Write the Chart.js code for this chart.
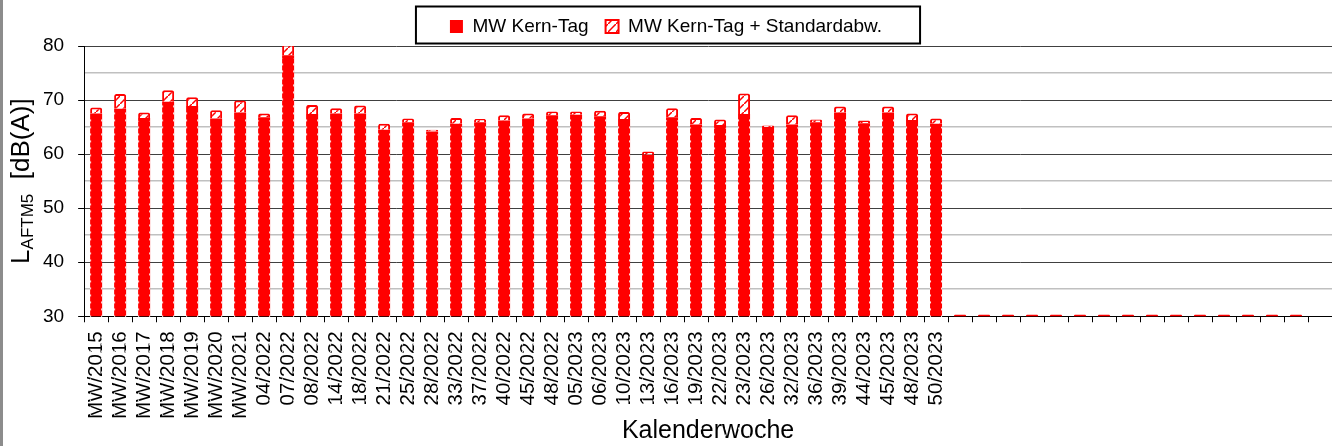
<!DOCTYPE html>
<html>
<head>
<meta charset="utf-8">
<script src="https://cdn.jsdelivr.net/npm/chart.js@4/dist/chart.umd.min.js"></script>
<style>
  body { margin: 0; background: #fff; }
  #wrap { width: 1332px; height: 446px; }
</style>
</head>
<body>
<div id="wrap"><canvas id="myChart" width="1332" height="446"></canvas></div>
<script>
// categories (last 16 slots are empty weeks)
const weeks = [
  "MW/2015", "MW/2016", "MW/2017", "MW/2018", "MW/2019", "MW/2020", "MW/2021",
  "04/2022", "07/2022", "08/2022", "14/2022", "18/2022", "21/2022", "25/2022",
  "28/2022", "33/2022", "37/2022", "40/2022", "45/2022", "48/2022",
  "05/2023", "06/2023", "10/2023", "13/2023", "16/2023", "19/2023", "22/2023",
  "23/2023", "26/2023", "32/2023", "36/2023", "39/2023", "44/2023", "45/2023",
  "48/2023", "50/2023",
  "", "", "", "", "", "", "", "", "", "", "", "", "", "", "", ""
];

// mean level of the core day, dB(A)
const meanKernTag = [
  67.5, 68.4, 66.7, 69.7, 68.9, 66.6, 67.7,
  66.8, 78.3, 67.4, 67.5, 67.5, 64.5, 65.9,
  64.2, 65.6, 65.9, 66.2, 66.6, 67.2,
  67.3, 67.0, 66.5, 59.9, 66.8, 65.5, 65.4,
  67.4, 65.0, 65.5, 65.9, 67.7, 65.7, 67.7,
  66.3, 65.6,
  30.3, 30.3, 30.3, 30.3, 30.3, 30.3, 30.3, 30.3, 30.3, 30.3, 30.3, 30.3, 30.3, 30.3, 30.3, null
];

// standard deviation stacked on top of the mean
const stdAbw = [
  1.1, 2.7, 1.0, 2.1, 1.6, 1.5, 2.2,
  0.7, 2.0, 1.7, 1.0, 1.5, 1.1, 0.7,
  0.3, 1.1, 0.6, 1.0, 0.9, 0.7,
  0.6, 1.0, 1.3, 0.6, 1.7, 1.2, 1.0,
  3.8, 0.3, 1.7, 0.5, 1.1, 0.5, 1.1,
  1.2, 1.0,
  null, null, null, null, null, null, null, null, null, null, null, null, null, null, null, null
];

const yTicks = [30, 40, 50, 60, 70, 80];

const FONT = '"Liberation Sans", Arial, sans-serif';

// white patch with red diagonal for the std segment
function makePattern() {
  const c = document.createElement("canvas");
  c.width = 8; c.height = 8;
  const g = c.getContext("2d");
  g.fillStyle = "#ffffff";
  g.fillRect(0, 0, 8, 8);
  g.strokeStyle = "#ff0000";
  g.lineWidth = 1.5;
  g.beginPath();
  g.moveTo(0, 8); g.lineTo(8, 0);
  g.stroke();
  return g.createPattern(c, "repeat");
}

// white dashes along the edges of the mean bars
const barEdges = {
  id: "barEdges",
  afterDatasetsDraw(chart) {
    const ctx = chart.ctx;
    const meta = chart.getDatasetMeta(0);
    ctx.save();
    ctx.strokeStyle = "rgba(255,255,255,0.9)";
    ctx.lineWidth = 1;
    ctx.setLineDash([2, 5]);
    meta.data.forEach((bar) => {
      const p = bar.getProps(["x", "y", "base", "width"], true);
      if (Math.abs(p.base - p.y) < 5) return;
      const l = p.x - p.width / 2 + 0.5;
      const r = p.x + p.width / 2 - 0.5;
      ctx.beginPath();
      ctx.moveTo(l, p.base); ctx.lineTo(l, p.y + 3);
      ctx.moveTo(r, p.base); ctx.lineTo(r, p.y + 3);
      ctx.stroke();
    });
    ctx.restore();
  }
};

// legend frame, y title with subscript, left border
const extras = {
  id: "extras",
  afterDraw(chart) {
    const ctx = chart.ctx;
    const area = chart.chartArea;
    ctx.save();

    ctx.fillStyle = "#8c8c8c";
    ctx.fillRect(0, 0, 3, chart.height);

    const hb = chart.legend.legendHitBoxes;
    if (hb && hb.length) {
      const l = Math.min(...hb.map(b => b.left)) - 34;
      const r = Math.max(...hb.map(b => b.left + b.width)) + 38;
      const cy = hb[0].top + hb[0].height / 2;
      ctx.strokeStyle = "#000";
      ctx.lineWidth = 2;
      ctx.strokeRect(l, cy - 20, r - l, 37);
    }

    const cy = (area.top + area.bottom) / 2;
    ctx.translate(29, cy);
    ctx.rotate(-Math.PI / 2);
    ctx.fillStyle = "#000";
    ctx.textBaseline = "alphabetic";
    const big = "26px " + FONT, small = "17px " + FONT;
    ctx.font = big;
    const wL = ctx.measureText("L").width;
    const wR = ctx.measureText("  [dB(A)]").width;
    ctx.font = small;
    const wS = ctx.measureText("AFTM5").width;
    let x = -(wL + wS + wR) / 2;
    ctx.font = big;
    ctx.fillText("L", x, 0);
    x += wL;
    ctx.font = small;
    ctx.fillText("AFTM5", x, 4);
    x += wS;
    ctx.font = big;
    ctx.fillText("  [dB(A)]", x, 0);
    ctx.restore();
  }
};

const canvas = document.getElementById("myChart");

new Chart(canvas, {
  type: "bar",
  data: {
    labels: weeks,
    datasets: [
      {
        label: "MW Kern-Tag",
        data: meanKernTag,
        backgroundColor: "#ff0000",
        borderColor: "#ff0000",
        borderWidth: 0,
        borderRadius: 1,
        barPercentage: 0.5,
        categoryPercentage: 1.0
      },
      {
        label: "MW Kern-Tag + Standardabw.",
        data: stdAbw,
        backgroundColor: makePattern(),
        borderColor: "#ff0000",
        borderWidth: 2,
        borderRadius: 2,
        borderSkipped: "bottom",
        barPercentage: 0.5,
        categoryPercentage: 1.0
      }
    ]
  },
  options: {
    responsive: false,
    animation: false,
    layout: { padding: { left: 0, right: 0, top: 0, bottom: 0 } },
    plugins: {
      tooltip: { enabled: false },
      legend: {
        position: "top",
        align: "center",
        labels: {
          color: "#000",
          font: { family: FONT, size: 19 },
          boxWidth: 13,
          boxHeight: 13,
          padding: 17
        }
      }
    },
    scales: {
      x: {
        stacked: true,
        offset: true,
        grid: {
          display: true,
          offset: true,
          drawOnChartArea: false,
          drawTicks: true,
          tickLength: 6,
          color: "#000"
        },
        border: { color: "#000", width: 1 },
        ticks: {
          autoSkip: false,
          minRotation: 90,
          maxRotation: 90,
          padding: 9,
          color: "#000",
          font: (c) => ({ family: FONT, size: c.tick && c.tick.label === "" ? 1 : 20.5 })
        },
        title: {
          display: true,
          text: "Kalenderwoche",
          color: "#000",
          font: { family: FONT, size: 25, lineHeight: 1.0 },
          padding: { top: -9, bottom: 2 }
        }
      },
      y: {
        stacked: true,
        min: yTicks[0],
        max: yTicks[yTicks.length - 1],
        afterFit: (scale) => { scale.width += 29; },
        border: { color: "#000", width: 1 },
        grid: {
          color: (c) => (c.tick && c.tick.value % 10 === 0 ? "#404040" : "#c0c0c0"),
          tickColor: (c) => (c.tick && c.tick.value % 10 === 0 ? "#000" : "rgba(0,0,0,0)"),
          lineWidth: (c) => (c.tick && c.tick.value % 10 === 0 ? 1 : 1.5),
          tickLength: 6
        },
        ticks: {
          stepSize: 5,
          padding: 14,
          color: "#000",
          font: { family: FONT, size: 19 },
          callback: (v) => (yTicks.includes(v) ? v : "")
        }
      }
    }
  },
  plugins: [barEdges, extras]
});
</script>
</body>
</html>
